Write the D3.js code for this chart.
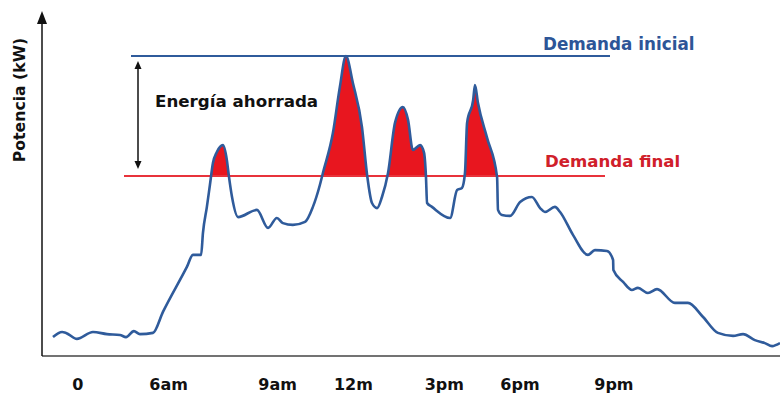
<!DOCTYPE html>
<html>
<head>
<meta charset="utf-8">
<script src="https://cdn.jsdelivr.net/npm/d3@7"></script>
<style>
  html, body { margin: 0; padding: 0; background: #fff; }
  svg { display: block; font-family: "DejaVu Sans", sans-serif; font-weight: bold; }
</style>
</head>
<body>
<svg id="chart" width="780" height="396"></svg>
<script>
// Daily load profile: hour of day and power (kW)
const hours = [0.00, 0.30, 0.43, 0.79, 1.32, 1.78, 2.21, 2.41, 2.67, 2.87, 3.30, 3.63, 4.42, 4.62, 4.89, 4.95,
  5.08, 5.18, 5.28, 5.41, 5.61, 5.74, 5.81, 5.91, 6.11, 6.73, 7.10, 7.39, 7.59, 7.92, 8.32, 8.58, 8.81, 8.91,
  9.24, 9.47, 9.67, 9.90, 10.20, 10.37, 10.53, 10.70, 10.86, 11.06, 11.29, 11.55, 11.72, 11.88, 12.12, 12.25,
  12.31, 12.35, 12.51, 13.11, 13.34, 13.50, 13.60, 13.67, 13.87, 13.93, 14.03, 14.33, 14.66, 14.69, 14.82,
  15.09, 15.42, 15.81, 16.08, 16.24, 16.57, 16.74, 17.17, 17.66, 17.89, 18.29, 18.49, 18.50, 18.82, 19.11,
  19.31, 19.64, 19.94, 20.53, 20.96, 21.46, 21.95, 22.45, 22.78, 23.17, 23.50, 23.74, 24.00];
const power = [6.3, 8.0, 7.7, 5.7, 8.0, 7.3, 7.0, 6.3, 8.3, 7.3, 7.7, 14.7, 29.7, 33.7, 33.7, 41.0,
  49.7, 57.0, 64.3, 68.0, 70.3, 65.3, 59.7, 53.0, 46.3, 48.7, 42.7, 46.0, 44.3, 43.7, 44.7, 49.7, 57.0, 61.0,
  74.3, 89.7, 100.0, 91.0, 76.3, 60.3, 51.0, 49.3, 53.0, 61.0, 77.7, 83.0, 78.7, 68.7, 70.3, 67.7,
  60.3, 51.0, 49.7, 46.0, 55.3, 56.0, 61.0, 77.7, 85.3, 90.3, 84.3, 72.7, 59.7, 48.7, 47.0,
  46.7, 51.3, 53.0, 49.3, 48.0, 49.7, 48.0, 40.3, 33.7, 35.3, 35.0, 32.0, 28.7, 24.7, 22.0,
  22.7, 21.0, 22.3, 17.7, 17.7, 13.0, 7.7, 6.7, 7.3, 5.3, 4.3, 3.3, 4.3];

// Demand levels before and after peak shaving (kW)
const initialDemand = 100;
const finalDemand = 60;

// Time labels along the bottom
const tickHours = [0.8, 3.8, 7.4, 9.9, 12.9, 15.4, 18.5];
const tickLabels = ["0", "6am", "9am", "12m", "3pm", "6pm", "9pm"];

const data = hours.map((h, i) => ({ h, v: power[i] }));

const svg = d3.select("#chart");
const axisX0 = 42, axisY0 = 356;

const x = d3.scaleLinear().domain([0, 24]).range([53, 780]);
const y = d3.scaleLinear().domain([0, 100]).range([axisY0, 56]);

const blue = "#2f5b9b";
const red = "#e8333b";

// Shaved energy: area between the load curve and the final demand, kept above it
svg.append("clipPath").attr("id", "above")
  .append("rect")
  .attr("x", 0).attr("y", 0)
  .attr("width", 780).attr("height", y(finalDemand));

const curve = d3.curveMonotoneX;

svg.append("path")
  .datum(data)
  .attr("clip-path", "url(#above)")
  .attr("fill", "#e8161f")
  .attr("d", d3.area().curve(curve).x(d => x(d.h)).y0(y(finalDemand)).y1(d => y(d.v)));

// Reference lines
svg.append("line")
  .attr("x1", 131).attr("x2", 610)
  .attr("y1", y(initialDemand)).attr("y2", y(initialDemand))
  .attr("stroke", blue).attr("stroke-width", 2);

svg.append("line")
  .attr("x1", 124).attr("x2", 605)
  .attr("y1", y(finalDemand)).attr("y2", y(finalDemand))
  .attr("stroke", red).attr("stroke-width", 2);

// Load curve
svg.append("path")
  .datum(data)
  .attr("fill", "none")
  .attr("stroke", blue)
  .attr("stroke-width", 2.6)
  .attr("stroke-linejoin", "round")
  .attr("d", d3.line().curve(curve).x(d => x(d.h)).y(d => y(d.v)));

// Axes
svg.append("line")
  .attr("x1", axisX0).attr("x2", 780)
  .attr("y1", axisY0).attr("y2", axisY0)
  .attr("stroke", "#444").attr("stroke-width", 1.5);
svg.append("line")
  .attr("x1", axisX0).attr("x2", axisX0)
  .attr("y1", axisY0).attr("y2", 20)
  .attr("stroke", "#111").attr("stroke-width", 1.5);
svg.append("path")
  .attr("d", `M${axisX0},11 L${axisX0 - 5},24 L${axisX0 + 5},24 Z`)
  .attr("fill", "#111");

const xAxis = d3.axisBottom(x)
  .tickValues(tickHours)
  .tickFormat((d, i) => tickLabels[i])
  .tickSize(0)
  .tickPadding(23);

const gx = svg.append("g")
  .attr("transform", `translate(0,${axisY0})`)
  .call(xAxis);
gx.select(".domain").remove();
gx.selectAll("text")
  .attr("font-family", "DejaVu Sans, sans-serif")
  .attr("font-weight", "bold")
  .attr("font-size", 16)
  .attr("fill", "#111");

// Axis title
svg.append("text")
  .attr("transform", "translate(25,100) rotate(-90)")
  .attr("text-anchor", "middle")
  .attr("font-size", 15.7)
  .attr("fill", "#111")
  .text("Potencia (kW)");

// Double-headed arrow showing the shaved demand
const ax = 138, ayTop = y(initialDemand) + 5, ayBot = y(finalDemand) - 7;
svg.append("line")
  .attr("x1", ax).attr("x2", ax)
  .attr("y1", ayTop + 6).attr("y2", ayBot - 6)
  .attr("stroke", "#111").attr("stroke-width", 1.5);
svg.append("path")
  .attr("d", `M${ax},${ayTop} L${ax - 3.5},${ayTop + 8} L${ax + 3.5},${ayTop + 8} Z`)
  .attr("fill", "#111");
svg.append("path")
  .attr("d", `M${ax},${ayBot} L${ax - 3.5},${ayBot - 8} L${ax + 3.5},${ayBot - 8} Z`)
  .attr("fill", "#111");

// Annotations
svg.append("text")
  .attr("x", 155).attr("y", 107)
  .attr("font-size", 16.7)
  .attr("fill", "#111")
  .text("Energía ahorrada");

svg.append("text")
  .attr("x", 543).attr("y", 50)
  .attr("font-size", 16.8)
  .attr("fill", "#2d5597")
  .text("Demanda inicial");

svg.append("text")
  .attr("x", 545).attr("y", 167)
  .attr("font-size", 16.6)
  .attr("fill", "#d0202a")
  .text("Demanda final");
</script>
</body>
</html>
